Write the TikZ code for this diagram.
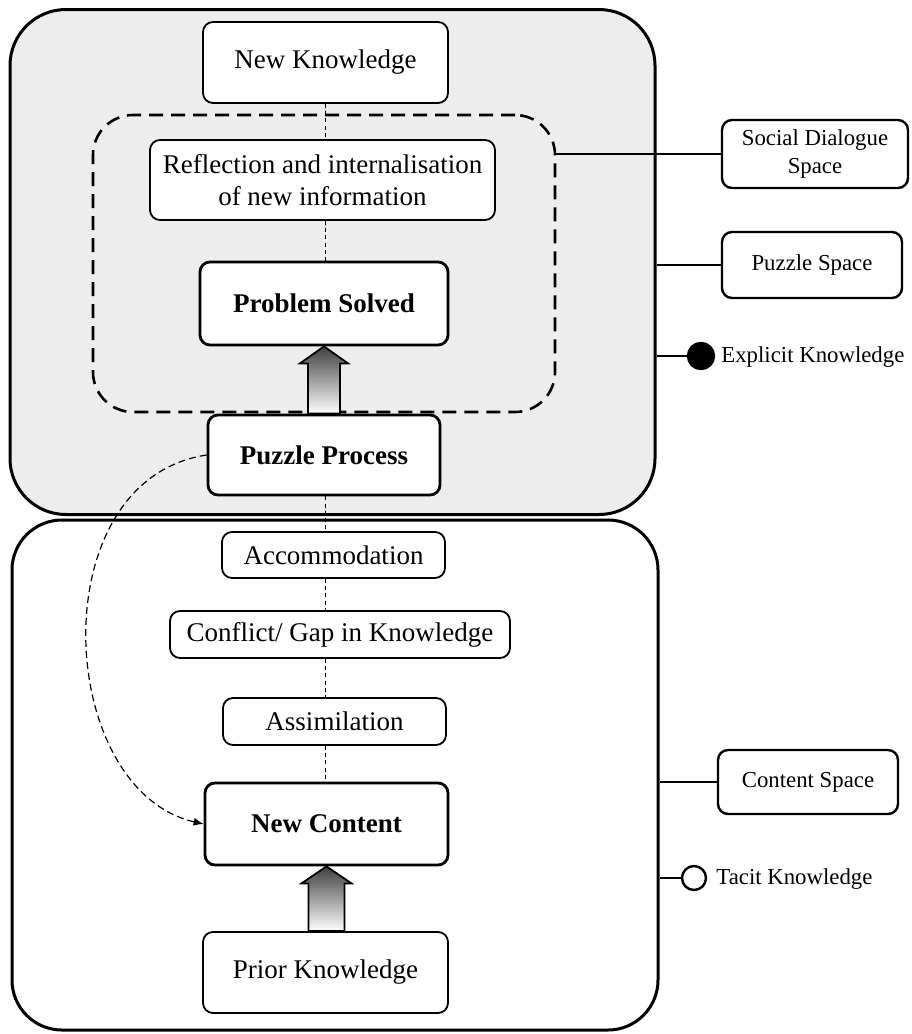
\documentclass[tikz,border=0pt]{standalone}
\usepackage{fontspec}
\setmainfont{Liberation Serif}
\usetikzlibrary{calc,arrows.meta}
\begin{document}
\begin{tikzpicture}[x=0.5pt,y=-0.5pt,
 box/.style={draw, rounded corners=5pt, fill=white, line width=0.9pt, align=center, inner sep=0pt, font=\fontsize{13.5pt}{16pt}\selectfont},
 boldbox/.style={box, line width=1.4pt, font=\fontsize{13.5pt}{16pt}\selectfont\bfseries},
 sidebox/.style={draw, rounded corners=5pt, fill=white, line width=1.2pt, align=center, inner sep=0pt, font=\fontsize{11.4pt}{14pt}\selectfont},
 sidetext/.style={anchor=west, inner sep=0pt, font=\fontsize{11.4pt}{14pt}\selectfont},
 dotline/.style={line width=0.6pt, dash pattern=on 2pt off 1.6pt},
 curvelink/.style={line width=0.6pt, dash pattern=on 3.5pt off 2pt, -{Latex[length=5pt,width=4pt]}},
 link/.style={line width=1.2pt},
 space/.style={draw, line width=1.5pt, inner sep=0pt},
 bigarrow/.style={draw=black, line width=0.9pt, top color=black!75, middle color=black!30, bottom color=white}
]
\useasboundingbox (0,0) rectangle (911,1034);

% outer spaces
\node[space, fill=gray!14, rounded corners=28pt, minimum width=322.5pt, minimum height=252.5pt] (top) at (332.5,262) {};
\node[space, fill=white, rounded corners=25pt, minimum width=323pt, minimum height=255pt] (bot) at (335,775) {};
\node[draw, line width=1.3pt, dash pattern=on 7pt off 4pt, rounded corners=20pt, minimum width=231pt, minimum height=148.5pt, inner sep=0pt] (sds) at (324,263.5) {};

% main nodes
\node[box, minimum width=122.5pt, minimum height=40.5pt] (nk) at (325.5,62.5) {New Knowledge};
\node[box, minimum width=172.5pt, minimum height=40pt] (rf) at (322.5,180) {Reflection and internalisation\\of new information};
\node[boldbox, minimum width=124pt, minimum height=41.5pt] (psol) at (324,303.5) {Problem Solved};
\node[boldbox, minimum width=116pt, minimum height=40pt] (pp) at (324,455) {Puzzle Process};
\node[box, minimum width=111.5pt, minimum height=23pt] (acc) at (333.5,555) {Accommodation};
\node[box, minimum width=170pt, minimum height=23.5pt] (cg) at (340,634.5) {Conflict/ Gap in Knowledge};
\node[box, minimum width=111.5pt, minimum height=23.5pt] (as) at (334.5,721.5) {Assimilation};
\node[boldbox, minimum width=121.5pt, minimum height=41pt] (nc) at (326.5,824) {New Content};
\node[box, minimum width=122.5pt, minimum height=40.5pt] (pk) at (325.5,972.5) {Prior Knowledge};

% side nodes
\node[sidebox, minimum width=93pt, minimum height=34pt] (sd) at (815,154) {Social Dialogue\\Space};
\node[sidebox, minimum width=90pt, minimum height=33pt] (ps) at (812,265) {Puzzle Space};
\node[sidebox, minimum width=90pt, minimum height=32pt] (cs) at (808,782) {Content Space};
\node[circle, draw, fill=black, line width=1.2pt, minimum size=13pt, inner sep=0pt] (ek) at (701,356) {};
\node[sidetext] (ekt) at (721,357) {Explicit Knowledge};
\node[circle, draw, fill=white, line width=1.2pt, minimum size=12pt, inner sep=0pt] (tk) at (694,878) {};
\node[sidetext] (tkt) at (716,879) {Tacit Knowledge};

% dotted chain
\draw[dotline] (nk.south) -- (nk.south |- rf.north);
\draw[dotline] (rf.south -| nk.south) -- (nk.south |- psol.north);
\draw[dotline] (pp.south -| nk.south) -- (nk.south |- acc.north);
\draw[dotline] (acc.south -| nk.south) -- (nk.south |- cg.north);
\draw[dotline] (cg.south -| nk.south) -- (nk.south |- as.north);
\draw[dotline] (as.south -| nk.south) -- (nk.south |- nc.north);

% big arrows
\path (psol.south) coordinate (t1) (t1 |- pp.north) coordinate (b1);
\path[bigarrow] (t1) -- ($(t1)+(24,17)$) -- ($(t1)+(16,17)$) -- ($(b1)+(16,0)$) -- ($(b1)+(-16,0)$) -- ($(t1)+(-16,17)$) -- ($(t1)+(-24,17)$) -- cycle;
\path (nc.south) coordinate (t2) (t2 |- pk.north) coordinate (b2);
\path[bigarrow] (t2) -- ($(t2)+(25,17)$) -- ($(t2)+(18,17)$) -- ($(b2)+(18,0)$) -- ($(b2)+(-18,0)$) -- ($(t2)+(-18,17)$) -- ($(t2)+(-25,17)$) -- cycle;

% curved dashed link
\draw[curvelink] (pp.west) .. controls (40,480) and (55,790) .. (nc.west);

% side links
\draw[link] (sds.east |- sd.west) -- (sd.west);
\draw[link] (top.east |- ps.west) -- (ps.west);
\draw[link] (top.east |- ek.west) -- (ek.west);
\draw[link] (bot.east |- cs.west) -- (cs.west);
\draw[link] (bot.east |- tk.west) -- (tk.west);
\end{tikzpicture}
\end{document}
